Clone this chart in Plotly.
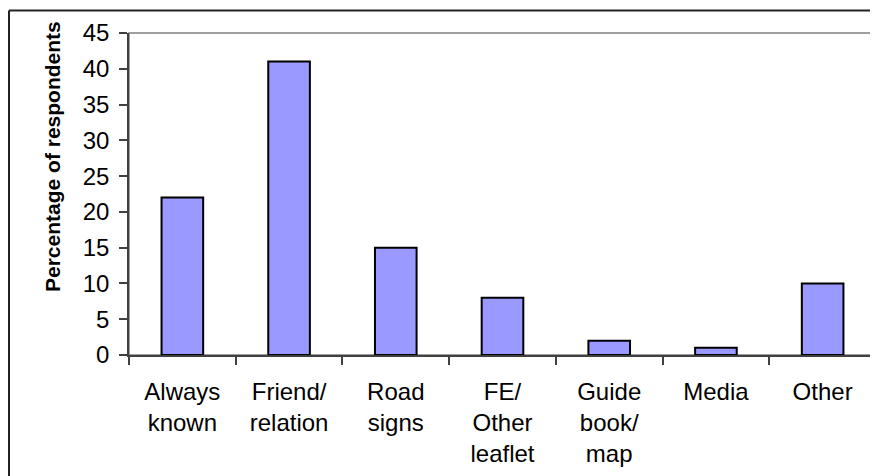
import plotly.graph_objects as go

categories = ["Always known", "Friend/relation", "Road signs", "FE/Other leaflet",
              "Guide book/map", "Media", "Other"]
tick_labels = ["Always<br>known", "Friend/<br>relation", "Road<br>signs",
               "FE/<br>Other<br>leaflet", "Guide<br>book/<br>map", "Media", "Other"]
values = [22, 41, 15, 8, 2, 1, 10]
y_ticks = [0, 5, 10, 15, 20, 25, 30, 35, 40, 45]
y_title = "Percentage of respondents"

# page has an 8px body margin, so the figure is 8px smaller than the window
W, H = 870, 468
L, R, T, B = 121, 2, 25, 121
pw, ph = W - L - R, H - T - B

FONT = "Liberation Sans, Arial, sans-serif"

fig = go.Figure(go.Bar(
    x=categories, y=values,
    marker=dict(color="#9999FF", line=dict(color="#000000", width=2)),
    width=0.39,
))

annotations = [dict(
    x=(44 - L) / pw, xref="paper", y=(H - B - 149) / ph, yref="paper",
    text="<b>" + y_title + "</b>", textangle=-90, showarrow=False,
    xanchor="center", yanchor="middle",
    font=dict(family=FONT, size=21, color="#000000"),
)]

shapes = [
    dict(type="rect", xref="paper", yref="paper", x0=0, x1=1, y0=0, y1=1,
         line=dict(color="#808080", width=1.5), layer="below"),
    dict(type="line", xref="paper", yref="paper",
         x0=(1 - L) / pw, x1=(W + 5 - L) / pw,
         y0=1 + (T - 2.5) / ph, y1=1 + (T - 2.5) / ph,
         line=dict(color="#222222", width=2)),
    dict(type="line", xref="paper", yref="paper",
         x0=(1 - L) / pw, x1=(1 - L) / pw,
         y0=1 + (T - 2.5) / ph, y1=-(B + 5) / ph,
         line=dict(color="#222222", width=2)),
]

fig.update_layout(
    width=W, height=H,
    margin=dict(l=L, r=R, t=T, b=B, pad=0),
    paper_bgcolor="white", plot_bgcolor="white",
    showlegend=False,
    font=dict(family=FONT, size=24, color="#000000"),
    annotations=annotations, shapes=shapes,
    xaxis=dict(
        type="category", tickson="boundaries", ticks="outside", ticklen=8,
        tickcolor="#404040", tickwidth=1.5,
        tickvals=categories, ticktext=tick_labels, ticklabelstandoff=14,
        tickfont=dict(family=FONT, size=24, color="#000000"),
        showline=True, linecolor="#404040", linewidth=1.5, showgrid=False,
        zeroline=False, range=[-0.5, 6.5], fixedrange=True,
    ),
    yaxis=dict(
        range=[0, 45], tickvals=y_ticks, ticks="outside", ticklen=8,
        tickcolor="#404040", tickwidth=1.5, showline=True, linecolor="#404040",
        linewidth=1.5, showgrid=False, zeroline=False, ticklabelstandoff=5,
        tickfont=dict(family=FONT, size=24, color="#000000"),
    ),
)

fig.write_html("out.html")
